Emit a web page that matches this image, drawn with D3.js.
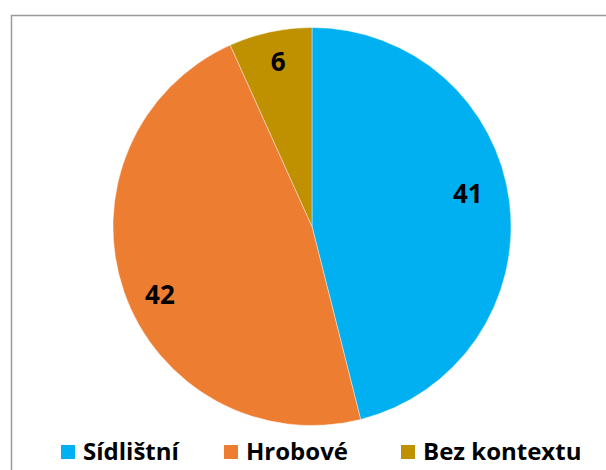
<!DOCTYPE html>
<html>
<head>
<meta charset="utf-8">
<script src="https://cdn.jsdelivr.net/npm/d3@7"></script>
<style>
  html, body { margin: 0; padding: 0; background: #fff; }
  svg { display: block; }
  text { font-family: "Open Sans", "Noto Sans", sans-serif; font-weight: bold; fill: #000; }
</style>
</head>
<body>
<svg id="chart" width="606" height="470"></svg>
<script>
const categories = ["Sídlištní", "Hrobové", "Bez kontextu"];
const values = [41, 42, 6];
const colors = ["#00B0F0", "#ED7D31", "#BF9000"];

const W = 606, H = 470;
const cx = 312, cy = 226.5, R = 199;
const labelR = 161;
// small nudges to mimic the reference's label placement
const labelNudge = [[-4, -13], [0, 15], [0, -7]];

const svg = d3.select("#chart");

// chart frame (only left and top edges visible in the reference)
svg.append("path")
  .attr("d", `M11.5,${H + 5} V15.5 H${W + 5}`)
  .attr("fill", "none")
  .attr("stroke", "#9a9a9a")
  .attr("stroke-width", 1.5);

const data = categories.map((c, i) => ({ cat: c, value: values[i], color: colors[i] }));

const pie = d3.pie().value(d => d.value).sort(null).startAngle(0).endAngle(2 * Math.PI);
const arcs = pie(data);

const arc = d3.arc().innerRadius(0).outerRadius(R);
const labelArc = d3.arc().innerRadius(labelR).outerRadius(labelR);

const g = svg.append("g").attr("transform", `translate(${cx},${cy})`);

g.selectAll("path.slice")
  .data(arcs)
  .join("path")
  .attr("class", "slice")
  .attr("d", arc)
  .attr("fill", d => d.data.color)
  .attr("stroke", "#fff")
  .attr("stroke-width", 0.4);

g.selectAll("text.lbl")
  .data(arcs)
  .join("text")
  .attr("class", "lbl")
  .attr("transform", (d, i) => {
    const [x, y] = labelArc.centroid(d);
    return `translate(${x + labelNudge[i][0]},${y + labelNudge[i][1]})`;
  })
  .attr("text-anchor", "middle")
  .attr("dy", "0.36em")
  .style("font-size", "26px")
  .text(d => d.data.value);

// legend
const legendX = [61, 224, 401];
const lg = svg.append("g");
const items = lg.selectAll("g.item")
  .data(data)
  .join("g")
  .attr("class", "item")
  .attr("transform", (d, i) => `translate(${legendX[i]},445)`);

items.append("rect")
  .attr("width", 14)
  .attr("height", 14)
  .attr("fill", d => d.color);

items.append("text")
  .attr("x", 22)
  .attr("y", 15)
  .style("font-size", "24px")
  .text(d => d.cat);
</script>
</body>
</html>
